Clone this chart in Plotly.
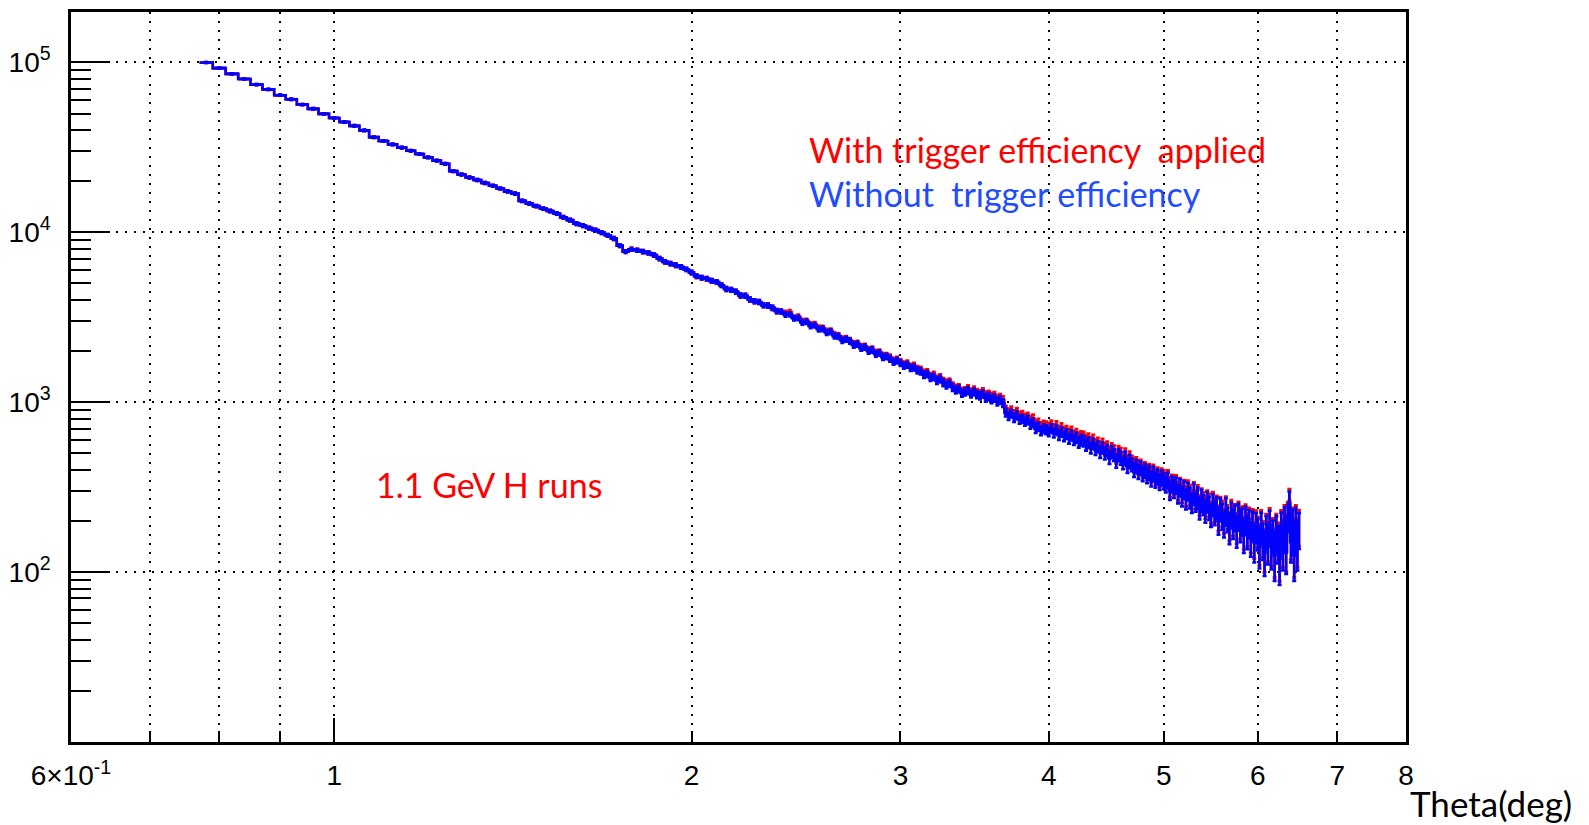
import numpy as np
import plotly.graph_objects as go

# ---------------- data ----------------
THETA_FIRST_CENTER = 0.78   # deg, centre of first bin
BIN_WIDTH = 0.02            # deg

# Without trigger efficiency (blue), one value per bin, 0.78 ... 6.50 deg
counts_without = [
    # 0.78 - 1.00
    99800, 92600, 85600, 79900, 74000, 69400, 64100, 60700, 56500, 53300, 49800, 47100,
    # 1.02 - 2.00
    44600, 42300, 39800, 36300, 34500, 32900, 31500, 30200, 28900, 27600,
    26400, 25300, 22900, 21900, 21000, 20300, 19500, 18800, 18100, 17400,
    16900, 15300, 14750, 14250, 13800, 13350, 12900, 12250, 11800, 11250,
    10950, 10600, 10300, 9950, 9600, 9200, 8350, 7700, 7950, 7850,
    7700, 7550, 7350, 7000, 6700, 6550, 6400, 6250, 6050, 5800,
    # 2.02 - 2.50
    5520, 5400, 5330, 5180, 5100, 4880, 4640, 4590, 4470, 4250, 4230, 4020, 3930,
    3890, 3720, 3700, 3590, 3440, 3420, 3280, 3290, 3120, 3130, 2950, 2980,
    # 2.52 - 3.00
    2810, 2840, 2690, 2700, 2570, 2600, 2450, 2440, 2310, 2350, 2290, 2170, 2200,
    2080, 2110, 2000, 2030, 1920, 1950, 1840, 1860, 1800, 1730, 1760, 1700,
    # 3.02 - 3.50
    1640, 1660, 1590, 1600, 1540, 1520, 1450, 1470, 1390, 1410, 1340, 1370, 1300,
    1260, 1290, 1220, 1180, 1200, 1130, 1150, 1170, 1120, 1150, 1110, 1090,
    # 3.52 - 4.00
    1120, 1060, 1080, 1040, 1060, 1010, 1030, 990, 870, 830, 860, 810, 840,
    790, 800, 770, 790, 740, 760, 700, 720, 680, 700, 690, 670,
    # 4.02 - 4.50
    700, 660, 690, 640, 670, 630, 650, 610, 640, 600, 620, 580, 600,
    590, 560, 580, 540, 570, 530, 550, 510, 540, 500, 520, 470,
    # 4.52 - 5.00
    510, 490, 450, 490, 470, 440, 470, 420, 450, 430, 400, 420, 390,
    410, 380, 395, 370, 385, 355, 380, 350, 365, 340, 360, 345,
    # 5.02 - 5.50
    330, 350, 300, 330, 310, 325, 290, 315, 280, 305, 270, 300, 275,
    255, 290, 260, 275, 235, 265, 250, 230, 260, 240, 215, 250,
    # 5.52 - 6.00
    225, 240, 200, 235, 215, 190, 230, 205, 180, 220, 195, 210, 175,
    215, 190, 200, 165, 205, 175, 195, 160, 190, 150, 185, 170,
    # 6.02 - 6.50
    140, 185, 155, 130, 175, 150, 190, 140, 165, 125, 175, 150, 120,
    185, 140, 200, 130, 210, 255, 150, 190, 125, 200, 140, 180,
]

# With trigger efficiency applied (red): identical below 2.40 deg, these bins from 2.40 deg on
counts_with_tail = [
    # 2.40 - 2.50
    3350, 3390, 3150, 3190, 3010, 3010,
    # 2.52 - 3.00
    2870, 2870, 2740, 2730, 2620, 2630, 2500, 2460, 2360, 2370, 2310, 2210, 2220,
    2120, 2130, 2040, 2050, 1960, 1970, 1880, 1880, 1840, 1760, 1780, 1730,
    # 3.02 - 3.50
    1670, 1690, 1620, 1640, 1570, 1550, 1490, 1500, 1420, 1450, 1370, 1400, 1330,
    1300, 1320, 1250, 1210, 1220, 1160, 1170, 1200, 1150, 1180, 1140, 1120,
    # 3.52 - 4.00
    1150, 1100, 1110, 1080, 1090, 1050, 1060, 1030, 905, 870, 895, 850, 875,
    830, 840, 810, 820, 785, 800, 740, 755, 720, 735, 725, 710,
    # 4.02 - 4.50
    735, 700, 725, 680, 705, 670, 680, 655, 670, 635, 650, 620, 630,
    625, 600, 610, 580, 600, 560, 575, 545, 565, 530, 545, 505,
    # 4.52 - 5.00
    530, 515, 475, 510, 495, 465, 490, 445, 470, 445, 425, 435, 415,
    420, 400, 405, 390, 395, 375, 390, 365, 375, 355, 370, 360,
    # 5.02 - 5.50
    345, 360, 312, 337, 322, 335, 302, 321, 294, 311, 281, 309, 286,
    268, 296, 270, 283, 247, 270, 260, 242, 265, 250, 226, 258,
    # 5.52 - 6.00
    234, 245, 210, 240, 224, 200, 235, 213, 189, 227, 203, 214, 184,
    221, 198, 206, 173, 211, 182, 201, 168, 196, 158, 192, 175,
    # 6.02 - 6.50
    146, 191, 161, 137, 180, 156, 196, 146, 170, 131, 180, 156, 126,
    191, 146, 206, 135, 218, 263, 156, 196, 131, 206, 146, 187,
]

# relative statistical error per bin, in percent
rel_err_percent = [
    0.7, 0.7, 0.7, 0.7, 0.8, 0.8, 0.8, 0.8, 0.8, 0.9, 0.9, 0.9,
    0.9, 1.0, 1.0, 1.0, 1.0, 1.1, 1.1, 1.1, 1.1, 1.2, 1.2, 1.2, 1.2,
    1.3, 1.3, 1.3, 1.3, 1.4, 1.4, 1.4, 1.4, 1.5, 1.5, 1.5, 1.5,
    1.6, 1.6, 1.6, 1.7, 1.7, 1.7, 1.8, 1.8, 1.8, 1.9, 1.9, 1.9, 1.9,
    2.0, 2.0, 2.0, 2.0, 2.1, 2.1, 2.1, 2.1, 2.2, 2.2, 2.2, 2.2,
    2.3, 2.3, 2.3, 2.4, 2.4, 2.4, 2.5, 2.5, 2.5, 2.6, 2.6, 2.6, 2.7,
    2.7, 2.7, 2.8, 2.8, 2.8, 2.8, 2.9, 2.9, 2.9, 3.0, 3.0, 3.0,
    3.0, 3.1, 3.1, 3.1, 3.2, 3.2, 3.2, 3.3, 3.3, 3.3, 3.4, 3.4, 3.4,
    3.5, 3.5, 3.5, 3.6, 3.6, 3.6, 3.7, 3.7, 3.7, 3.8, 3.8, 3.8,
    3.9, 3.9, 4.0, 4.0, 4.0, 4.1, 4.1, 4.2, 4.2, 4.2, 4.3, 4.3, 4.4,
    4.4, 4.4, 4.5, 4.5, 4.6, 4.6, 4.6, 4.7, 4.7, 4.8, 4.8, 4.8,
    4.9, 4.9, 5.0, 5.0, 5.1, 5.1, 5.2, 5.2, 5.3, 5.3, 5.4, 5.4, 5.5,
    5.5, 5.5, 5.6, 5.6, 5.7, 5.7, 5.8, 5.8, 5.9, 5.9, 6.0, 6.0,
    6.1, 6.0, 6.3, 6.2, 6.5, 6.4, 6.6, 6.5, 6.8, 6.7, 7.0, 6.8, 7.1,
    7.0, 7.3, 7.2, 7.5, 7.3, 7.6, 7.5, 7.8, 7.6, 8.0, 7.8, 8.0,
    8.2, 8.0, 8.5, 8.2, 8.7, 8.4, 8.9, 8.6, 9.1, 8.8, 9.3, 9.0, 9.5,
    9.2, 9.7, 9.4, 9.9, 9.6, 10.1, 9.8, 10.3, 10.0, 10.5, 10.1, 10.4,
    10.8, 10.3, 11.5, 10.8, 12.0, 11.0, 12.5, 11.5, 13.0, 11.8, 13.5, 12.0, 13.8,
    12.5, 14.2, 12.8, 14.5, 13.2, 15.0, 13.5, 15.2, 13.8, 15.6, 14.2, 14.8,
    16.0, 14.8, 17.0, 15.2, 17.5, 15.8, 18.5, 16.2, 19.0, 16.8, 19.5, 17.2, 20.5,
    17.5, 21.0, 18.0, 21.5, 18.5, 22.0, 19.0, 23.0, 19.5, 24.0, 20.0, 21.0,
    25.0, 21.0, 24.0, 27.0, 22.0, 26.0, 21.0, 26.0, 22.0, 29.0, 22.0, 25.0, 30.0,
    21.0, 27.0, 20.0, 25.0, 18.0, 17.0, 24.0, 22.0, 29.0, 20.0, 27.0, 24.0,
]

# axis ticks
x_tickvals = [0.6, 1, 2, 3, 4, 5, 6, 7, 8]
x_ticktext = ["6×10<sup>-1</sup>", "1", "2", "3", "4", "5", "6", "7", "8"]
x_minor_vals = [0.7, 0.8, 0.9]
y_tickvals = [1e2, 1e3, 1e4, 1e5]
y_ticktext = ["10<sup>2</sup>", "10<sup>3</sup>", "10<sup>4</sup>", "10<sup>5</sup>"]
y_minor_vals = [m * 10 ** e for e in range(1, 6) for m in range(2, 10)]

X_RANGE = [0.6, 8.0]
Y_RANGE = [10.0, 1.98e5]

# ---------------- build ----------------
n = len(counts_without)
assert len(rel_err_percent) == n
theta = np.round(THETA_FIRST_CENTER + BIN_WIDTH * np.arange(n), 4)
counts_with = counts_without[: n - len(counts_with_tail)] + counts_with_tail
rel = np.array(rel_err_percent) / 100.0

RED = "#ff0000"
BLUE = "#0000ff"
LW = 2.6


def hist_traces(values, color):
    y = np.array(values, dtype=float)
    outline = go.Scatter(
        x=theta, y=y, mode="lines", line=dict(color=color, width=LW, shape="hvh"),
        hoverinfo="skip", showlegend=False,
    )
    bars = go.Scatter(
        x=theta, y=y, mode="markers",
        marker=dict(size=2, color=color),
        error_x=dict(type="constant", value=BIN_WIDTH / 2, width=0,
                     thickness=LW, color=color),
        error_y=dict(type="data", array=y * rel, width=2,
                     thickness=LW, color=color),
        hoverinfo="skip", showlegend=False,
    )
    return [outline, bars]


fig = go.Figure()
for tr in hist_traces(counts_with, RED):
    fig.add_trace(tr)
for tr in hist_traces(counts_without, BLUE):
    fig.add_trace(tr)
# empty trace so that the overlay axis (long decade tick) is drawn
fig.add_trace(go.Scatter(x=[], y=[], xaxis="x2", yaxis="y", showlegend=False))

GRID_DASH = "2px,7px"
tick_font = dict(family="Liberation Sans, Arial, sans-serif", size=28, color="black")

fig.update_layout(
    width=1589, height=825,
    margin=dict(l=66, r=183, t=9, b=83),
    paper_bgcolor="white", plot_bgcolor="white",
    xaxis=dict(
        type="log", range=[np.log10(X_RANGE[0]), np.log10(X_RANGE[1])],
        tickmode="array", tickvals=x_tickvals, ticktext=x_ticktext,
        ticks="inside", ticklen=11, tickwidth=2, tickcolor="black",
        tickfont=tick_font, ticklabelstandoff=7,
        showgrid=True, gridcolor="black", gridwidth=2.2, griddash=GRID_DASH,
        minor=dict(tickmode="array", tickvals=x_minor_vals, ticks="inside",
                   ticklen=11, tickwidth=2, tickcolor="black",
                   showgrid=True, gridcolor="black", gridwidth=2.2, griddash=GRID_DASH),
        showline=True, linecolor="black", linewidth=2.5, mirror=True,
        zeroline=False, fixedrange=True,
    ),
    xaxis2=dict(
        type="log", range=[np.log10(X_RANGE[0]), np.log10(X_RANGE[1])],
        overlaying="x", anchor="y", side="bottom",
        tickmode="array", tickvals=[1], ticks="inside", ticklen=24, tickwidth=2,
        tickcolor="black", showticklabels=False, showgrid=False,
        showline=False, zeroline=False, fixedrange=True,
    ),
    yaxis=dict(
        type="log", range=[np.log10(Y_RANGE[0]), np.log10(Y_RANGE[1])],
        tickmode="array", tickvals=y_tickvals, ticktext=y_ticktext,
        ticks="inside", ticklen=39, tickwidth=2, tickcolor="black",
        tickfont=tick_font, ticklabelstandoff=12,
        showgrid=True, gridcolor="black", gridwidth=2.2, griddash=GRID_DASH,
        minor=dict(tickmode="array", tickvals=y_minor_vals, ticks="inside",
                   ticklen=20, tickwidth=2, tickcolor="black", showgrid=False),
        showline=True, linecolor="black", linewidth=2.5, mirror=True,
        zeroline=False, fixedrange=True,
    ),
    showlegend=False,
)

label_font = "Lato, 'Open Sans', sans-serif"
fig.add_annotation(text="With trigger efficiency  applied", xref="paper", yref="paper",
                   x=0.551, y=0.812, xanchor="left", yanchor="middle", showarrow=False,
                   font=dict(family=label_font, size=34, color="#ff0000"))
fig.add_annotation(text="Without  trigger efficiency", xref="paper", yref="paper",
                   x=0.551, y=0.751, xanchor="left", yanchor="middle", showarrow=False,
                   font=dict(family=label_font, size=34, color="#1f4cff"))
fig.add_annotation(text="1.1 GeV H runs", xref="paper", yref="paper",
                   x=0.227, y=0.3525, xanchor="left", yanchor="middle", showarrow=False,
                   font=dict(family=label_font, size=34, color="#ff0000"))
fig.add_annotation(text="Theta(deg)", xref="paper", yref="paper",
                   x=1.0015, y=-0.0833, xanchor="left", yanchor="middle", showarrow=False,
                   font=dict(family=label_font, size=35, color="black"))

fig.write_html("out.html")
